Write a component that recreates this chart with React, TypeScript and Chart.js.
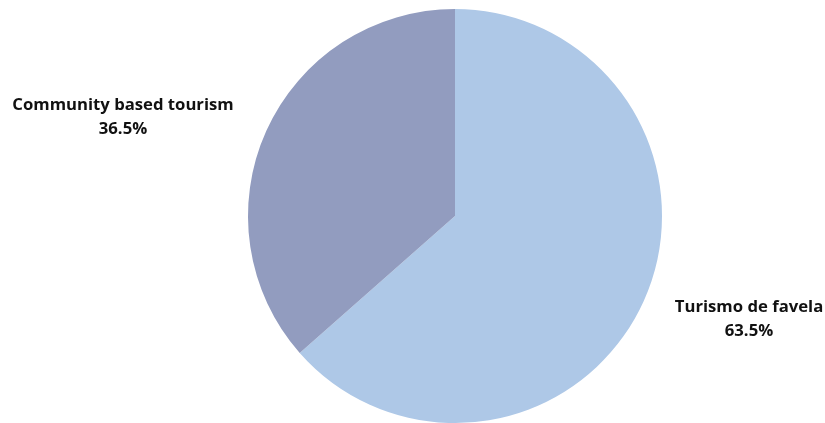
import React, { useEffect, useRef } from "react";
import { Chart, registerables } from "chart.js";

Chart.register(...registerables);

const categories = ["Turismo de favela", "Community based tourism"];
const values = [63.5, 36.5];
const colors = ["#aec8e7", "#929cbf"];
const labelPositions = [
  { x: 749, y: 307 },
  { x: 123, y: 105 },
];

export default function App() {
  const ref = useRef<HTMLCanvasElement | null>(null);
  useEffect(() => {
    document.body.style.margin = "0";
    const labelPlugin = {
      id: "sliceLabels",
      afterDraw(chart: any) {
        const ctx = chart.ctx;
        ctx.save();
        ctx.fillStyle = "#111111";
        ctx.textAlign = "center";
        ctx.textBaseline = "middle";
        ctx.font = 'bold 16.7px "Open Sans"';
        categories.forEach((c, i) => {
          const p = labelPositions[i];
          ctx.fillText(c, p.x, p.y);
          ctx.fillText(values[i].toFixed(1) + "%", p.x, p.y + 24);
        });
        ctx.restore();
      },
    };
    const chart = new Chart(ref.current!, {
      type: "pie",
      data: {
        labels: categories,
        datasets: [
          {
            data: values,
            backgroundColor: colors,
            borderWidth: 0,
          },
        ],
      },
      options: {
        animation: false,
        responsive: false,
        layout: { padding: { left: 248, right: 163, top: 9, bottom: 0 } },
        plugins: { legend: { display: false }, tooltip: { enabled: false } },
      },
      plugins: [labelPlugin],
    });
    return () => chart.destroy();
  }, []);
  return (
    <div style={{ position: "absolute", left: 0, top: 0, width: 825, height: 423 }}>
      <canvas ref={ref} width={825} height={423} />
    </div>
  );
}
